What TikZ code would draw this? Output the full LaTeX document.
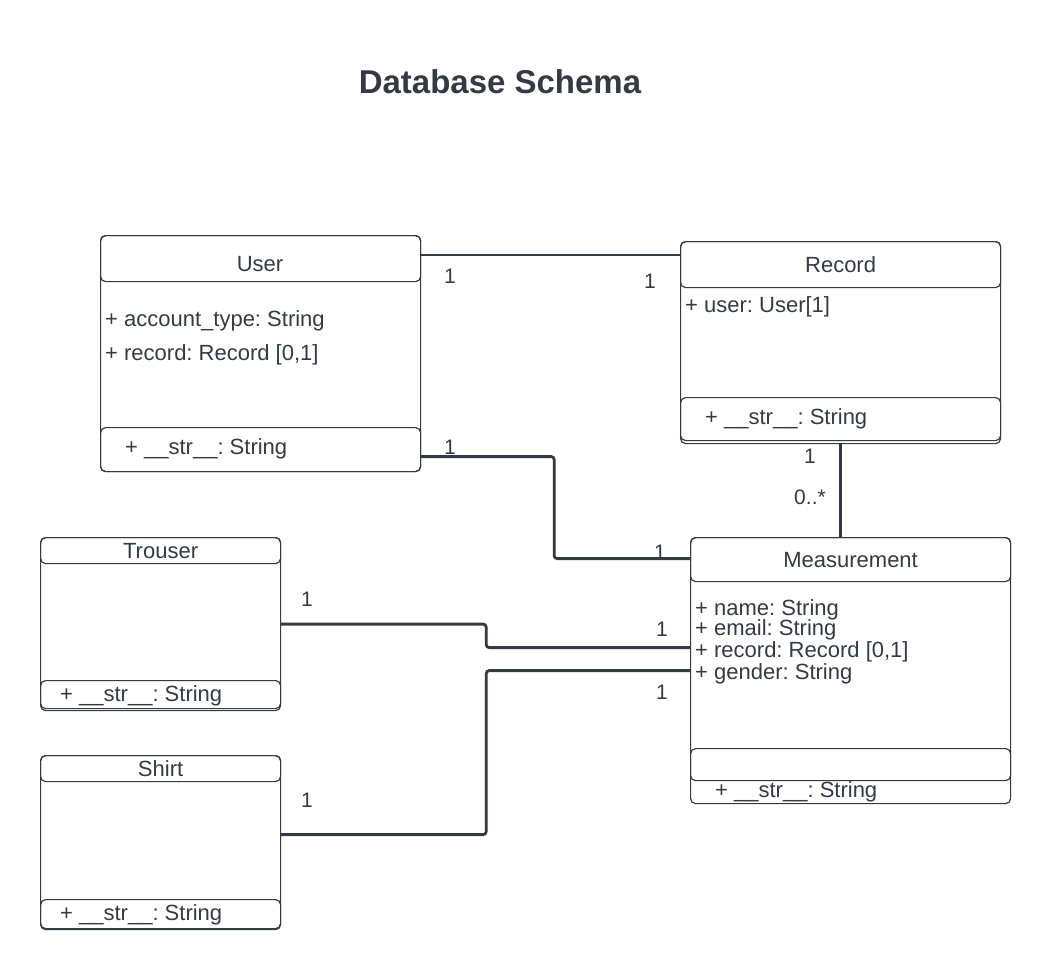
\documentclass[tikz,border=0pt]{standalone}
\usepackage{fontspec}
\setmainfont{Liberation Sans}
\usetikzlibrary{positioning,calc}
\definecolor{ink}{RGB}{52,58,68}
\frenchspacing
\tikzset{
  box/.style={draw=ink, line width=1.2pt, rounded corners=5pt, inner sep=0pt, anchor=north west},
  head/.style={box, text=ink, font=\fontsize{22}{24}\selectfont},
  attr/.style={anchor=west, inner sep=0pt, yshift=-2pt, text=ink, font=\fontsize{22}{24}\selectfont},
  mult/.style={inner sep=0pt, text=ink, font=\fontsize{21}{23}\selectfont},
  link/.style={draw=ink, line width=2.8pt, rounded corners=3pt},
}
\begin{document}
\begin{tikzpicture}[x=1pt,y=-1pt]
    \useasboundingbox (0,0) rectangle (1050,969);
    \node[text=ink, font=\bfseries\fontsize{33}{36}\selectfont] (title) at (500,82) {Database Schema};
    % User
    \node[box, minimum width=320pt, minimum height=236pt] (UserBox) at (100,235) {};
    \node[head, minimum width=320pt, minimum height=46pt, text depth=0pt] (UserHead) at (100,235) {};
    \node[attr, anchor=center] (UserName) at (260,262) {User};
    \node[box, minimum width=320pt, minimum height=44pt] (UserStr) at (100,427) {};
    \node[attr] (UserA1) at (105,319) {+ account\_type: String};
    \node[attr] (UserA2) at (105,353) {+ record: Record [0,1]};
    \node[attr] (UserM1) at (125,447) {+ \_\_str\_\_: String};
    % Record
    \node[box, minimum width=320pt, minimum height=202pt] (RecordBox) at (680,241) {};
    \node[head, minimum width=320pt, minimum height=46pt] (RecordHead) at (680,241) {Record};
    \node[box, minimum width=320pt, minimum height=43pt] (RecordStr) at (680,397) {};
    \node[attr] (RecordA1) at (685,305) {+ user: User[1]};
    \node[attr] (RecordM1) at (705,417) {+ \_\_str\_\_: String};
    % Measurement
    \node[box, minimum width=320pt, minimum height=266pt] (MeasBox) at (690,537) {};
    \node[head, minimum width=320pt, minimum height=44pt] (MeasHead) at (690,537) {Measurement};
    \node[box, minimum width=320pt, minimum height=32pt] (MeasOps) at (690,748) {};
    \node[attr] (MeasA1) at (695,608) {+ name: String};
    \node[attr] (MeasA2) at (695,628) {+ email: String};
    \node[attr] (MeasA3) at (695,650) {+ record: Record [0,1]};
    \node[attr] (MeasA4) at (695,672) {+ gender: String};
    \node[attr] (MeasM1) at (715,790) {+ \_\_str\_\_: String};
    % Trouser
    \node[box, minimum width=240pt, minimum height=173pt] (TrouserBox) at (40,537) {};
    \node[head, minimum width=240pt, minimum height=26pt] (TrouserHead) at (40,537) {Trouser};
    \node[box, minimum width=240pt, minimum height=28pt] (TrouserStr) at (40,680) {};
    \node[attr] (TrouserM1) at (60,694) {+ \_\_str\_\_: String};
    % Shirt
    \node[box, minimum width=240pt, minimum height=174pt] (ShirtBox) at (40,755) {};
    \node[head, minimum width=240pt, minimum height=26pt] (ShirtHead) at (40,755) {Shirt};
    \node[box, minimum width=240pt, minimum height=29pt] (ShirtStr) at (40,899) {};
    \node[attr] (ShirtM1) at (60,913) {+ \_\_str\_\_: String};
    % associations
    \draw[link] ([yshift=-20pt]UserBox.north east) -- ([yshift=-20pt]UserBox.north east -| RecordBox.west);
    \draw[link] ([yshift=-7pt]UserStr.east) -- ++(133,0) |- ([yshift=1pt]MeasHead.west);
    \draw[link] (RecordBox.south) -- (RecordBox.south |- MeasBox.north);
    \draw[link] (TrouserBox.east) -- ++(205,0) |- ([yshift=23pt]MeasBox.west);
    \draw[link] ([yshift=8pt]ShirtBox.east) -- ++(205,0) |- (MeasBox.west);
    % multiplicities
    \node[mult] (mUR1) at (450,276) {1};
    \node[mult] (mUR2) at (650,281) {1};
    \node[mult] (mUM1) at (450,447) {1};
    \node[mult] (mUM2) at (660,552) {1};
    \node[mult] (mRM1) at (810,456) {1};
    \node[mult] (mRM2) at (810,497) {0..*};
    \node[mult] (mTM1) at (307,599) {1};
    \node[mult] (mTM2) at (662,629) {1};
    \node[mult] (mSM1) at (307,800) {1};
    \node[mult] (mSM2) at (662,692) {1};
\end{tikzpicture}
\end{document}
